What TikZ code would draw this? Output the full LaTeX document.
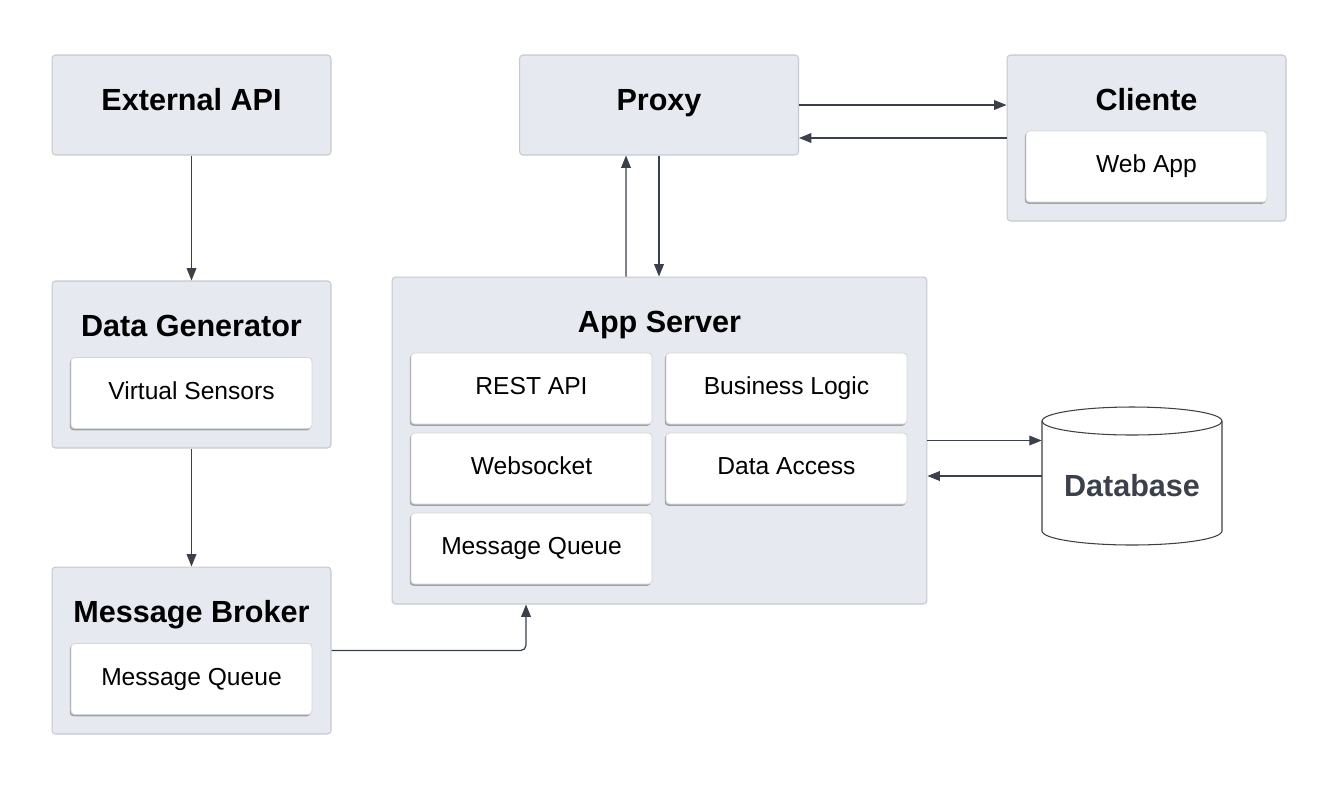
\documentclass[tikz,border=0pt]{standalone}
\usepackage{fontspec}
\setmainfont{Liberation Sans}
\usetikzlibrary{arrows.meta,shadows}
\definecolor{boxfill}{HTML}{E6E9EF}
\definecolor{boxline}{HTML}{C5C9D0}
\definecolor{innerline}{HTML}{D3D6DB}
\definecolor{linkcol}{HTML}{3A414A}
\tikzset{
  outerbox/.style={rectangle,draw=boxline,fill=boxfill,line width=0.6pt,rounded corners=2pt,minimum width=5.58cm},
  innerbox/.style={rectangle,draw=innerline,fill=white,line width=0.5pt,rounded corners=2pt,
    minimum width=4.82cm,minimum height=1.42cm,font=\fontsize{14}{16}\selectfont,
    text height=10pt,text depth=2.8pt,
    drop shadow={shadow xshift=-0.7pt,shadow yshift=-1pt,fill=black,opacity=0.3}},
  boxtitle/.style={font=\fontsize{17.4}{20}\selectfont\bfseries,inner sep=0pt,anchor=base},
  link/.style={draw=linkcol,line width=0.7pt,-{Triangle[length=7pt,width=5.5pt]}}
}
\begin{document}
\begin{tikzpicture}[x=0.02cm,y=-0.02cm]
  \useasboundingbox[fill=white](0,0) rectangle (1322,789);
  % top row
  \node[outerbox,minimum height=2cm] (ext) at (191.5,105) {};
  \node[boxtitle] (extT) at (191.5,110) {External API};
  \node[outerbox,minimum height=2cm] (proxy) at (659,105) {};
  \node[boxtitle] (proxyT) at (659,110) {Proxy};
  \node[outerbox,minimum height=3.32cm] (cli) at (1146.5,138) {};
  \node[boxtitle] (cliT) at (1146.5,110) {Cliente};
  \node[innerbox] (web) at (1146.5,166.5) {Web App};
  % left column
  \node[outerbox,minimum height=3.34cm] (gen) at (191.5,364.5) {};
  \node[boxtitle] (genT) at (191.5,336) {Data Generator};
  \node[innerbox] (sens) at (191.5,393) {Virtual Sensors};
  \node[outerbox,minimum height=3.34cm] (broker) at (191.5,650.5) {};
  \node[boxtitle] (brokerT) at (191.5,622) {Message Broker};
  \node[innerbox] (bq) at (191.5,679) {Message Queue};
  % app server
  \node[outerbox,minimum width=10.7cm,minimum height=6.54cm] (app) at (659.5,440.5) {};
  \node[boxtitle] (appT) at (659.5,332) {App Server};
  \node[innerbox] (rest) at (531.5,388.5) {REST API};
  \node[innerbox] (logic) at (786.5,388.5) {Business Logic};
  \node[innerbox] (ws) at (531.5,468.5) {Websocket};
  \node[innerbox] (dal) at (786.5,468.5) {Data Access};
  \node[innerbox] (aq) at (531.5,548.5) {Message Queue};
  % database
  \node[minimum width=3.6cm,minimum height=2.76cm,inner sep=0pt] (db) at (1132,476) {};
  \draw[black!75,line width=0.6pt] (1132,421) ellipse [x radius=1.8cm,y radius=0.28cm];
  \draw[black!75,line width=0.6pt] (1042,421) -- (1042,531)
    arc[start angle=180,end angle=360,x radius=1.8cm,y radius=0.28cm] -- (1222,421);
  \node[boxtitle,text=linkcol] (dbT) at (1132,496) {Database};
  % connectors
  \draw[link] (ext.south) -- (gen.north);
  \draw[link] (gen.south) -- (broker.north);
  \draw[link,rounded corners=3pt] (broker.east) -| ([xshift=-2.67cm]app.south);
  \draw[link] ([xshift=-0.67cm]app.north) -- ([xshift=-0.66cm]proxy.south);
  \draw[link] (proxy.south) -- (proxy.south |- app.north);
  \draw[link] (proxy.east) -- (proxy.east -| cli.west);
  \draw[link] (cli.west) -- (cli.west -| proxy.east);
  \draw[link] (app.east) -- (app.east -| db.west);
  \draw[link] (db.west) -- (db.west -| app.east);
\end{tikzpicture}
\end{document}
